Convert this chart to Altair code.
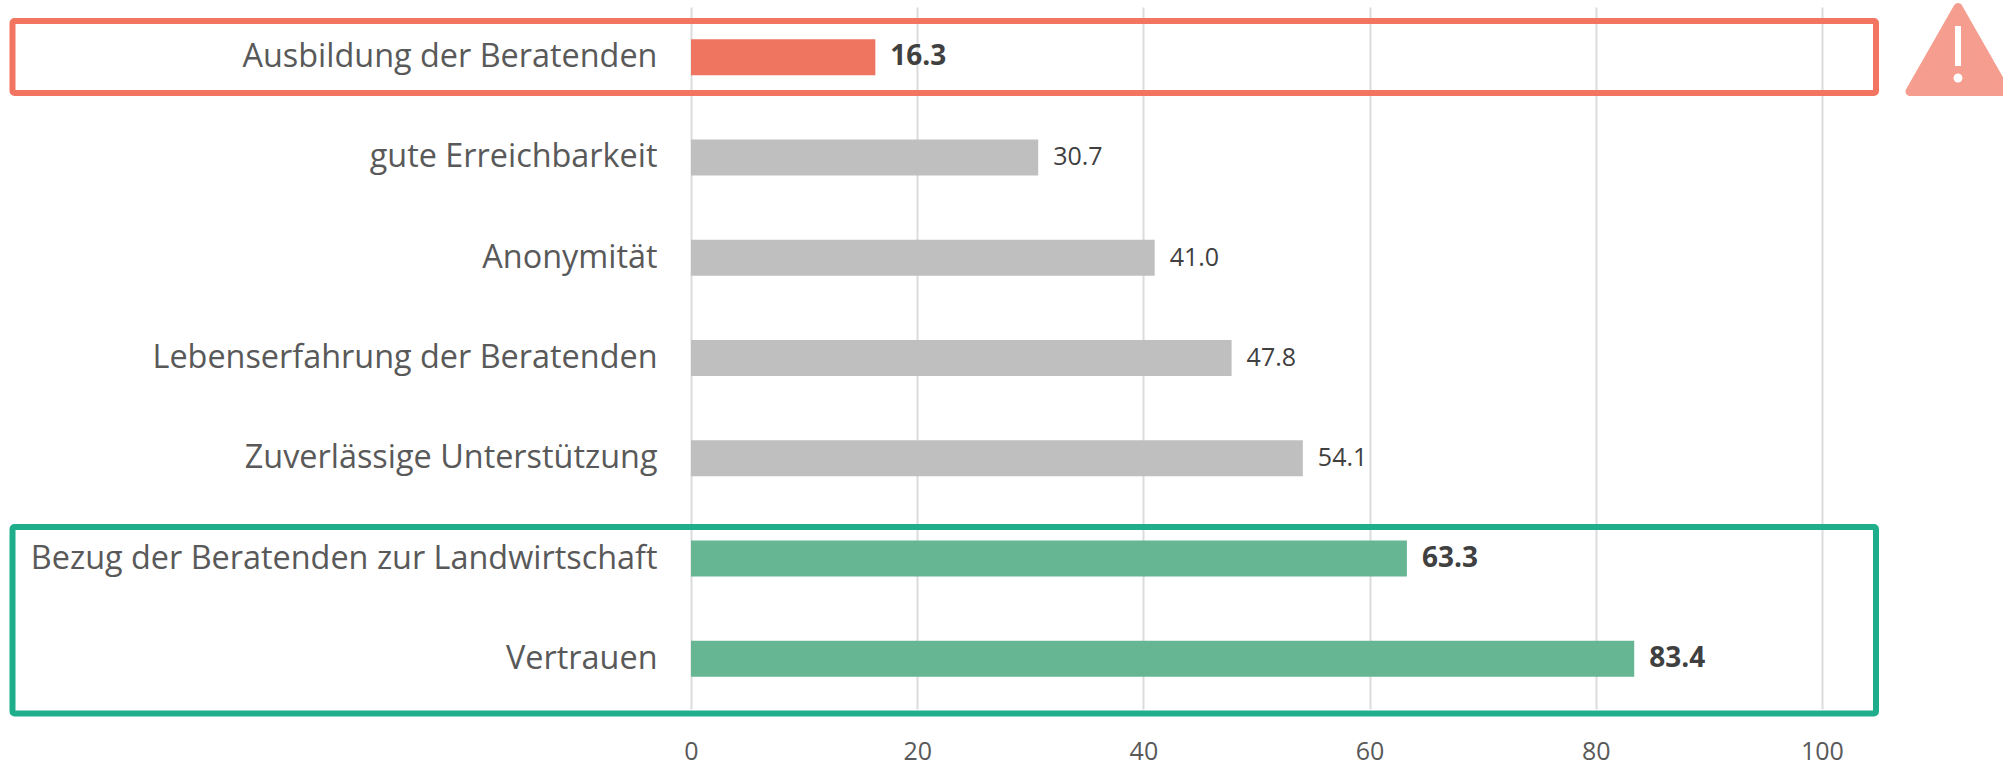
import altair as alt
import pandas as pd

# Survey items, top to bottom, with their shares in percent
categories = [
    "Ausbildung der Beratenden",
    "gute Erreichbarkeit",
    "Anonymität",
    "Lebenserfahrung der Beratenden",
    "Zuverlässige Unterstützung",
    "Bezug der Beratenden zur Landwirtschaft",
    "Vertrauen",
]
values = [16.3, 30.7, 41.0, 47.8, 54.1, 63.3, 83.4]
groups = ["low", "mid", "mid", "mid", "mid", "high", "high"]
emphasised = [True, False, False, False, False, True, True]
x_ticks = [0, 20, 40, 60, 80, 100]

group_names = ["low", "mid", "high"]
group_colors = ["#EF7560", "#BFBFBF", "#66B694"]

FONT = "Open Sans"
LABEL_COLOR = "#595959"
VALUE_COLOR = "#404040"
RED_FRAME = "#F27562"
GREEN_FRAME = "#1FAE8C"
WARNING = "#F59D8E"

source = pd.DataFrame(
    {"item": categories, "share": values, "group": groups, "bold": emphasised}
)
single = pd.DataFrame({"k": [0]})

x_enc = alt.X(
    "share:Q",
    scale=alt.Scale(domain=[0, 105], nice=False, zero=True),
    axis=alt.Axis(
        values=x_ticks,
        title=None,
        grid=True,
        gridColor="#DCDCDC",
        gridWidth=2,
        domain=False,
        ticks=False,
        labelFlush=False,
        labelFont=FONT,
        labelFontSize=25,
        labelColor=LABEL_COLOR,
        labelPadding=30,
    ),
)
y_enc = alt.Y(
    "item:N",
    sort=categories,
    axis=alt.Axis(
        title=None,
        domain=False,
        ticks=False,
        grid=False,
        labelFont=FONT,
        labelFontSize=32.4,
        labelColor=LABEL_COLOR,
        labelPadding=34,
        labelLimit=700,
    ),
)

bars = (
    alt.Chart(source)
    .mark_bar(size=36)
    .encode(
        x=x_enc,
        y=y_enc,
        color=alt.Color(
            "group:N",
            scale=alt.Scale(domain=group_names, range=group_colors),
            legend=None,
        ),
    )
)


def value_labels(selection, size, weight):
    return (
        alt.Chart(source)
        .transform_filter(selection)
        .mark_text(
            align="left",
            baseline="middle",
            dx=15,
            font=FONT,
            fontSize=size,
            fontWeight=weight,
            color=VALUE_COLOR,
        )
        .encode(
            x=alt.X("share:Q"),
            y=alt.Y("item:N", sort=categories),
            text=alt.Text("share:Q", format=".1f"),
        )
    )


plain_labels = value_labels("!datum.bold", 25, "normal")
bold_labels = value_labels("datum.bold", 28, "bold")


def frame(left, right, top, bottom, color):
    return (
        alt.Chart(single)
        .mark_rect(filled=False, stroke=color, strokeWidth=6, cornerRadius=2)
        .encode(
            x=alt.value(left),
            x2=alt.value(right),
            y=alt.value(top),
            y2=alt.value(bottom),
        )
    )


red_frame = frame(-678.5, 1185, 14, 86, RED_FRAME)
green_frame = frame(-678.5, 1185, 520, 706.5, GREEN_FRAME)

# Warning sign to the right of the top row
triangle = (
    alt.Chart(single)
    .mark_point(
        shape="M0,-0.875L1,0.875L-1,0.875Z",
        size=9216,
        filled=True,
        fill=WARNING,
        stroke=WARNING,
        strokeWidth=9,
        strokeJoin="round",
        opacity=1,
    )
    .encode(x=alt.value(1267), y=alt.value(42.5))
)
bang_bar = (
    alt.Chart(single)
    .mark_rect(color="white")
    .encode(
        x=alt.value(1264),
        x2=alt.value(1270),
        y=alt.value(19),
        y2=alt.value(59),
    )
)
bang_dot = (
    alt.Chart(single)
    .mark_point(shape="circle", size=80, filled=True, color="white", opacity=1)
    .encode(x=alt.value(1267), y=alt.value(71))
)

chart = (
    alt.layer(
        bars,
        plain_labels,
        bold_labels,
        red_frame,
        green_frame,
        triangle,
        bang_bar,
        bang_dot,
    )
    .properties(
        width=1187.5,
        height=702,
        autosize=alt.AutoSizeParams(type="none"),
        padding={"left": 691, "top": 7, "right": 124.5, "bottom": 56},
        background="white",
    )
    .configure_view(stroke=None)
)

chart.save("out.html", embed_options={"renderer": "svg", "actions": False})
